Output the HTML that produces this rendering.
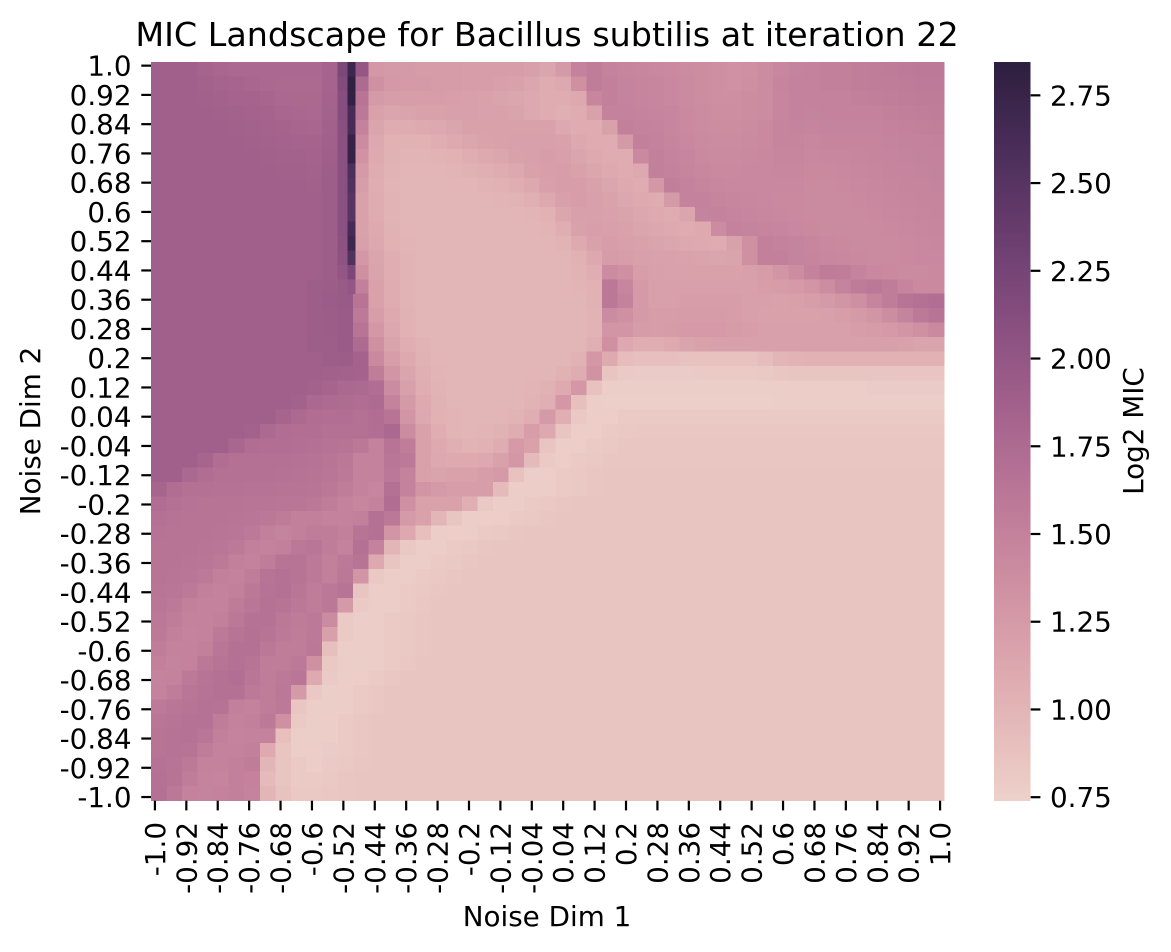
<!DOCTYPE html>
<html>
<head>
<meta charset="utf-8">
<title>MIC Landscape</title>
<style>
html,body{margin:0;padding:0;background:#fff;width:1171px;height:952px;overflow:hidden}
svg{display:block}
text{font-family:"DejaVu Sans","Liberation Sans",sans-serif;fill:#000}
</style>
</head>
<body>
<svg id="chart" xmlns="http://www.w3.org/2000/svg" width="1171" height="952" viewBox="0 0 1171 952">
  <rect x="0" y="0" width="1171" height="952" fill="#fff"/>
  <g id="cells" shape-rendering="crispEdges"></g>
  <g id="streak" shape-rendering="crispEdges"></g>
  <g id="xticks"></g>
  <g id="yticks"></g>
  <g id="colorbar" shape-rendering="crispEdges"></g>
  <g id="cticks"></g>
  <text x="547" y="46" font-size="33.33" text-anchor="middle">MIC Landscape for Bacillus subtilis at iteration 22</text>
  <text x="547" y="926" font-size="27.78" text-anchor="middle">Noise Dim 1</text>
  <text transform="translate(40,431) rotate(-90)" font-size="27.78" text-anchor="middle">Noise Dim 2</text>
  <text transform="translate(1143,431) rotate(-90)" font-size="27.78" text-anchor="middle">Log2 MIC</text>
</svg>
<script>
const xTickLabels = ["-1.0","-0.92","-0.84","-0.76","-0.68","-0.6","-0.52","-0.44","-0.36","-0.28","-0.2","-0.12","-0.04","0.04","0.12","0.2","0.28","0.36","0.44","0.52","0.6","0.68","0.76","0.84","0.92","1.0"];
const yTickLabels = ["1.0","0.92","0.84","0.76","0.68","0.6","0.52","0.44","0.36","0.28","0.2","0.12","0.04","-0.04","-0.12","-0.2","-0.28","-0.36","-0.44","-0.52","-0.6","-0.68","-0.76","-0.84","-0.92","-1.0"];
const colorbarTickValues = [0.75,1.00,1.25,1.50,1.75,2.00,2.25,2.50,2.75];
const colorbarTickLabels = ["0.75","1.00","1.25","1.50","1.75","2.00","2.25","2.50","2.75"];
const colorMin = 0.74;
const colorMax = 2.845;
/* Log2 MIC x 100, top row first, coarse blocks of two grid steps */
const micGrid = [
[188,188,188,184,180,178,178,178,178,178,178,184,220,200,128,125,125,124,124,123,122,122,122,122,120,115,125,150,155,150,147,145,143,142,140,138,136,134,135,140,144,148,150,152,152,154,155,156,157,158,158],
[188,188,188,186,184,182,180,178,176,176,176,184,215,175,135,127,126,125,124,124,122,122,120,118,114,108,112,135,155,152,148,146,145,143,141,138,136,134,136,140,146,150,150,152,152,154,155,155,156,157,157],
[188,188,188,187,186,184,183,181,178,177,177,185,212,165,125,122,122,122,122,121,120,118,116,114,112,108,108,112,145,152,148,146,145,143,141,138,136,136,138,140,145,150,150,150,150,152,153,154,155,156,156],
[188,188,188,188,187,186,185,183,180,179,178,186,212,160,118,115,116,118,118,120,120,119,118,116,112,108,105,108,118,150,150,148,147,145,142,140,137,137,138,140,145,150,148,150,150,150,150,152,153,154,155],
[188,188,188,188,188,187,186,185,183,181,180,187,210,150,115,108,108,110,112,115,118,118,118,118,118,118,112,108,108,118,152,150,148,145,142,140,138,138,140,142,146,148,146,148,148,148,148,150,151,152,153],
[188,188,188,188,188,188,187,186,185,184,183,188,208,140,112,104,103,104,106,110,114,117,118,120,120,120,118,112,108,108,125,152,150,146,143,141,140,140,141,142,146,146,144,146,146,146,147,148,149,150,151],
[188,188,188,188,188,188,188,187,186,186,185,189,208,132,110,103,101,101,102,104,107,110,114,118,120,122,120,115,110,108,108,142,152,148,145,142,141,141,142,143,145,145,143,144,144,145,146,147,148,149,150],
[188,188,188,188,188,188,188,188,187,187,186,190,208,125,108,102,100,100,100,101,103,105,108,112,118,121,122,118,114,110,108,112,152,150,147,144,142,142,143,143,144,144,142,142,143,144,145,146,147,148,149],
[188,188,188,188,188,188,188,188,188,188,187,190,208,122,107,101,100,100,100,100,100,102,104,106,112,120,122,122,118,114,110,108,128,153,150,146,144,143,143,143,143,143,141,141,142,143,144,145,146,147,148],
[188,188,188,188,188,188,188,188,188,188,188,190,208,118,108,102,100,100,100,100,100,100,101,102,105,112,120,122,120,117,113,110,108,125,150,150,147,145,144,143,142,142,141,141,141,142,143,144,145,146,147],
[188,188,188,188,188,188,188,188,188,188,188,190,208,118,108,102,100,100,100,100,100,100,100,100,101,104,114,120,120,119,116,113,110,108,115,148,150,147,145,144,143,142,141,141,141,141,142,143,144,145,146],
[188,188,188,188,188,188,188,188,188,188,188,190,208,118,110,103,100,100,100,100,100,100,100,100,100,101,106,118,121,120,118,115,113,110,108,110,140,150,148,146,145,143,142,141,141,141,141,142,143,144,145],
[188,188,188,188,188,188,188,188,188,188,188,190,206,120,112,104,101,100,100,100,100,100,100,100,100,100,102,110,118,122,120,118,116,114,112,110,108,118,135,152,150,148,145,143,142,141,141,141,142,143,144],
[188,188,188,188,188,188,188,188,188,188,188,190,204,128,115,106,102,100,100,100,100,100,100,100,100,100,100,104,112,124,122,120,119,118,117,116,115,116,135,152,152,148,146,144,143,142,141,141,142,143,143],
[188,188,188,188,188,188,188,188,188,188,188,190,200,135,116,106,102,100,100,100,100,100,100,100,100,100,100,102,107,140,135,122,120,119,118,118,118,118,120,124,130,138,150,156,155,148,143,142,141,141,142],
[188,188,188,188,188,188,188,188,188,188,190,192,196,152,118,108,102,100,100,100,100,100,100,100,100,100,100,101,104,160,145,125,120,120,120,120,120,120,120,122,124,126,130,138,148,156,160,155,146,142,142],
[188,188,188,188,188,188,188,188,188,188,190,193,196,165,118,108,102,100,100,100,100,100,100,100,100,100,100,100,103,160,150,126,120,120,122,122,122,122,120,120,118,120,122,125,130,136,146,155,165,168,170],
[188,188,188,188,188,188,188,188,188,188,190,192,194,158,122,110,103,100,100,100,100,100,100,100,100,100,100,100,102,140,135,125,122,122,124,124,124,122,120,118,118,118,118,120,122,125,130,138,148,158,165],
[188,188,188,188,188,188,188,188,188,188,190,192,194,165,128,113,104,100,100,100,100,100,100,100,100,100,100,100,102,130,130,124,122,124,126,126,126,124,122,120,120,120,120,120,120,122,124,126,130,135,142],
[188,188,188,188,188,188,188,188,188,188,190,191,194,175,135,116,106,102,100,100,100,100,100,100,100,100,100,100,105,135,112,106,106,110,116,118,120,120,120,120,120,120,120,120,120,120,120,120,118,116,116],
[188,188,188,188,188,188,188,188,188,188,188,190,192,185,142,122,110,103,100,100,100,100,100,100,100,100,100,103,128,110,92,90,90,90,88,88,88,88,88,92,100,102,104,104,104,104,104,104,104,104,104],
[188,188,188,188,188,188,188,188,188,188,188,187,186,185,155,130,115,105,101,100,100,100,100,100,100,100,103,108,132,85,80,79,79,79,79,80,80,80,80,82,84,85,85,85,85,85,85,85,86,86,86],
[188,188,188,188,188,188,188,188,188,188,186,182,178,176,172,140,120,107,102,100,100,100,100,100,101,103,110,128,88,78,77,77,77,77,77,77,77,77,77,77,78,78,78,78,78,78,79,79,79,79,79],
[188,188,188,188,188,188,188,188,188,186,178,175,174,172,175,150,125,110,103,100,100,100,100,100,102,105,128,90,78,76,76,76,76,76,76,76,76,76,76,76,77,77,77,77,77,77,77,77,77,77,77],
[188,188,188,188,188,188,188,188,182,176,172,170,170,168,172,165,130,112,104,101,100,100,100,102,106,125,105,82,78,78,80,80,80,80,80,80,80,80,80,80,80,80,80,80,80,80,80,80,80,81,81],
[188,188,188,188,188,188,186,176,172,170,170,168,168,168,170,178,140,118,106,101,100,101,103,108,122,112,85,78,78,80,82,83,83,83,83,83,83,83,83,83,83,83,83,83,83,83,83,83,83,83,83],
[188,188,188,188,188,180,172,170,170,169,168,166,165,160,150,165,155,118,110,105,102,104,108,126,118,85,78,78,80,82,84,84,84,84,84,84,84,84,84,84,84,84,84,84,84,84,84,84,84,84,84],
[188,188,188,182,172,168,168,168,168,167,166,164,160,150,150,162,158,118,112,110,110,112,118,128,95,80,78,80,82,84,84,84,84,84,84,84,84,84,84,84,84,84,84,84,84,84,84,84,84,84,84],
[188,188,178,172,168,168,168,168,167,166,165,162,158,150,150,160,150,118,116,118,118,122,125,88,78,78,80,82,84,85,85,85,85,85,85,85,85,85,85,85,85,85,85,85,85,85,85,85,85,85,85],
[182,172,168,168,167,167,166,166,165,165,164,160,155,150,145,168,150,130,125,122,122,122,95,78,78,78,80,82,84,85,85,85,85,85,85,85,85,85,85,85,85,85,85,85,85,85,85,85,85,85,85],
[172,168,166,165,165,165,164,164,162,162,160,155,150,145,150,172,135,118,118,118,105,82,78,78,80,82,84,85,85,85,85,85,85,85,85,85,85,85,85,85,85,85,85,85,85,85,85,85,85,85,85],
[168,166,165,165,165,164,162,160,156,152,152,150,150,152,168,160,125,118,100,85,78,78,78,80,82,84,85,85,85,85,85,85,85,85,85,85,85,85,85,85,85,85,85,85,85,85,85,85,85,85,85],
[166,165,165,165,164,162,158,152,148,152,155,155,152,165,168,130,112,90,78,78,78,80,82,84,85,85,85,85,85,85,85,85,85,85,85,85,85,85,85,85,85,85,85,85,85,85,85,85,85,85,85],
[165,165,165,164,162,158,152,150,152,160,162,155,150,168,150,100,82,78,78,80,82,84,85,85,85,85,85,85,85,85,85,85,85,85,85,85,85,85,85,85,85,85,85,85,85,85,85,85,85,85,85],
[165,165,164,162,158,152,150,155,165,165,158,152,158,165,112,85,78,78,80,82,84,85,85,85,85,85,85,85,85,85,85,85,85,85,85,85,85,85,85,85,85,85,85,85,85,85,85,85,85,85,85],
[165,164,162,158,152,150,155,165,168,165,158,152,160,130,82,78,78,80,82,84,85,85,85,85,85,85,85,85,85,85,85,85,85,85,85,85,85,85,85,85,85,85,85,85,85,85,85,85,85,85,85],
[164,162,158,152,150,152,160,166,168,162,155,160,165,85,78,78,80,82,84,85,85,85,85,85,85,85,85,85,85,85,85,85,85,85,85,85,85,85,85,85,85,85,85,85,85,85,85,85,85,85,85],
[162,158,152,150,150,156,162,167,165,160,155,160,125,80,78,78,80,83,85,85,85,85,85,85,85,85,85,85,85,85,85,85,85,85,85,85,85,85,85,85,85,85,85,85,85,85,85,85,85,85,85],
[160,155,150,150,152,160,167,167,160,156,158,140,80,78,78,80,82,84,85,85,85,85,85,85,85,85,85,85,85,85,85,85,85,85,85,85,85,85,85,85,85,85,85,85,85,85,85,85,85,85,85],
[158,152,148,150,158,165,168,165,158,155,158,120,80,77,78,80,82,84,85,85,85,85,85,85,85,85,85,85,85,85,85,85,85,85,85,85,85,85,85,85,85,85,85,85,85,85,85,85,85,85,85],
[155,150,150,152,162,168,168,160,155,155,160,90,78,78,78,80,82,84,85,85,85,85,85,85,85,85,85,85,85,85,85,85,85,85,85,85,85,85,85,85,85,85,85,85,85,85,85,85,85,85,85],
[152,148,150,160,165,168,165,155,155,158,135,82,78,77,78,80,83,85,85,85,85,85,85,85,85,85,85,85,85,85,85,85,85,85,85,85,85,85,85,85,85,85,85,85,85,85,85,85,85,85,85],
[148,150,158,165,168,170,162,155,158,162,110,80,77,78,80,83,85,85,85,85,85,85,85,85,85,85,85,85,85,85,85,85,85,85,85,85,85,85,85,85,85,85,85,85,85,85,85,85,85,85,85],
[150,155,162,166,168,168,158,155,160,125,82,77,78,80,83,85,85,85,85,85,85,85,85,85,85,85,85,85,85,85,85,85,85,85,85,85,85,85,85,85,85,85,85,85,85,85,85,85,85,85,85],
[158,162,165,167,166,152,150,155,158,84,78,77,78,80,83,85,85,85,85,85,85,85,85,85,85,85,85,85,85,85,85,85,85,85,85,85,85,85,85,85,85,85,85,85,85,85,85,85,85,85,85],
[162,165,167,167,155,150,152,158,135,80,77,78,80,83,85,85,85,85,85,85,85,85,85,85,85,85,85,85,85,85,85,85,85,85,85,85,85,85,85,85,85,85,85,85,85,85,85,85,85,85,85],
[165,166,167,162,152,148,150,150,90,78,77,78,80,83,85,85,85,85,85,85,85,85,85,85,85,85,85,85,85,85,85,85,85,85,85,85,85,85,85,85,85,85,85,85,85,85,85,85,85,85,85],
[165,166,165,155,150,150,152,110,85,78,78,79,81,83,85,85,85,85,85,85,85,85,85,85,85,85,85,85,85,85,85,85,85,85,85,85,85,85,85,85,85,85,85,85,85,85,85,85,85,85,85],
[167,165,158,150,150,152,155,100,85,80,78,80,82,84,85,85,85,85,85,85,85,85,85,85,85,85,85,85,85,85,85,85,85,85,85,85,85,85,85,85,85,85,85,85,85,85,85,85,85,85,85],
[168,165,155,148,146,152,150,95,85,80,80,82,84,85,85,85,85,85,85,85,85,85,85,85,85,85,85,85,85,85,85,85,85,85,85,85,85,85,85,85,85,85,85,85,85,85,85,85,85,85,85],
[168,160,150,148,150,152,148,100,88,82,82,83,84,85,85,85,85,85,85,85,85,85,85,85,85,85,85,85,85,85,85,85,85,85,85,85,85,85,85,85,85,85,85,85,85,85,85,85,85,85,85]
];
/* Log2 MIC x 100 along the narrow dark streak at Noise Dim 1 = -0.5, one value per coarse row from the top */
const streakValues = [270,282,280,262,262,278,278,258,255,250,250,265,270,255,220,200];

const NS = "http://www.w3.org/2000/svg";
const plotLeft = 151, plotRight = 944, plotTop = 62, plotBottom = 800.7;
const fineCount = 101, tickEvery = 4, tickLen = 9.7, tickWidth = 2.2;
const plotW = plotRight - plotLeft, plotH = plotBottom - plotTop;

function xFine(i){ return plotLeft + i * plotW / fineCount; }
function yFine(i){ return plotTop + i * plotH / fineCount; }
function xCoarse(i){ return plotLeft + i * plotW / micGrid[0].length; }
function yCoarse(i){ return plotTop + i * plotH / micGrid.length; }
function yColor(v){ return plotBottom - (v - colorMin) / (colorMax - colorMin) * plotH; }

/* seaborn cubehelix_palette(as_cmap=True) */
function cmap(v){
  let t = Math.max(0, Math.min(1, (v - colorMin) / (colorMax - colorMin)));
  let x = 0.85 - 0.7 * t;
  let a = 0.8 * x * (1 - x) / 2;
  let phi = 2 * Math.PI * 0.4 * x;
  let c = Math.cos(phi), s = Math.sin(phi);
  let r = x + a * (-0.14861 * c + 1.78277 * s);
  let g = x + a * (-0.29227 * c - 0.90649 * s);
  let b = x + a * (1.97294 * c);
  let h = n => Math.round(Math.max(0, Math.min(1, n)) * 255);
  return "rgb(" + h(r) + "," + h(g) + "," + h(b) + ")";
}
function svgEl(tag, attrs){
  let e = document.createElementNS(NS, tag);
  for (let k in attrs) e.setAttribute(k, attrs[k]);
  return e;
}

const cellsG = document.getElementById("cells");
micGrid.forEach(function(row, r){
  row.forEach(function(val, c){
    let x0 = xCoarse(c), x1 = xCoarse(c + 1), y0 = yCoarse(r), y1 = yCoarse(r + 1);
    let el = svgEl("rect", {x: x0, y: y0, width: x1 - x0 + 0.5, height: y1 - y0 + 0.5, fill: cmap(val / 100)});
    
    
    cellsG.appendChild(el);
  });
});

const streakG = document.getElementById("streak");
const streakFineColumn = 25;
streakValues.forEach(function(val, r){
  let el = svgEl("rect", {x: xFine(streakFineColumn), y: yCoarse(r), width: plotW / fineCount + 0.4, height: yCoarse(r + 1) - yCoarse(r) + 0.5, fill: cmap(val / 100)});
  
  
  streakG.appendChild(el);
});

const xG = document.getElementById("xticks");
xTickLabels.forEach(function(lab, i){
  let tx = xFine(i * tickEvery + 0.5);
  let line = svgEl("line", {x1: tx, x2: tx, y1: plotBottom, y2: plotBottom + tickLen, stroke: "#000", "stroke-width": tickWidth});
  
  
  xG.appendChild(line);
  let t = svgEl("text", {transform: "translate(" + (tx + 10) + ",822) rotate(-90)", "font-size": 27.78, "text-anchor": "end"});
  
  
  t.textContent = lab;
  xG.appendChild(t);
});

const yG = document.getElementById("yticks");
yTickLabels.forEach(function(lab, i){
  let ty = yFine(i * tickEvery + 0.5);
  let line = svgEl("line", {x1: plotLeft - tickLen, x2: plotLeft, y1: ty, y2: ty, stroke: "#000", "stroke-width": tickWidth});
  
  
  yG.appendChild(line);
  let t = svgEl("text", {x: 131.5, y: ty + 10, "font-size": 27.78, "text-anchor": "end"});
  
  
  t.textContent = lab;
  yG.appendChild(t);
});

const cbLeft = 994, cbRight = 1030.7;
const cbG = document.getElementById("colorbar");
const cbSteps = 256;
for (let i = 0; i < cbSteps; i++){
  let y0 = plotBottom - (i + 1) * plotH / cbSteps;
  let v = colorMin + (i + 0.5) / cbSteps * (colorMax - colorMin);
  let el = svgEl("rect", {x: cbLeft, y: y0, width: cbRight - cbLeft, height: plotH / cbSteps + 0.5, fill: cmap(v)});
  
  
  cbG.appendChild(el);
}

const cG = document.getElementById("cticks");
colorbarTickValues.forEach(function(v, i){
  let ty = yColor(v);
  let line = svgEl("line", {x1: cbRight, x2: cbRight + tickLen, y1: ty, y2: ty, stroke: "#000", "stroke-width": tickWidth});
  
  
  cG.appendChild(line);
  let t = svgEl("text", {x: 1050, y: ty + 10, "font-size": 27.78});
  
  
  t.textContent = colorbarTickLabels[i];
  cG.appendChild(t);
});
</script>
</body>
</html>
